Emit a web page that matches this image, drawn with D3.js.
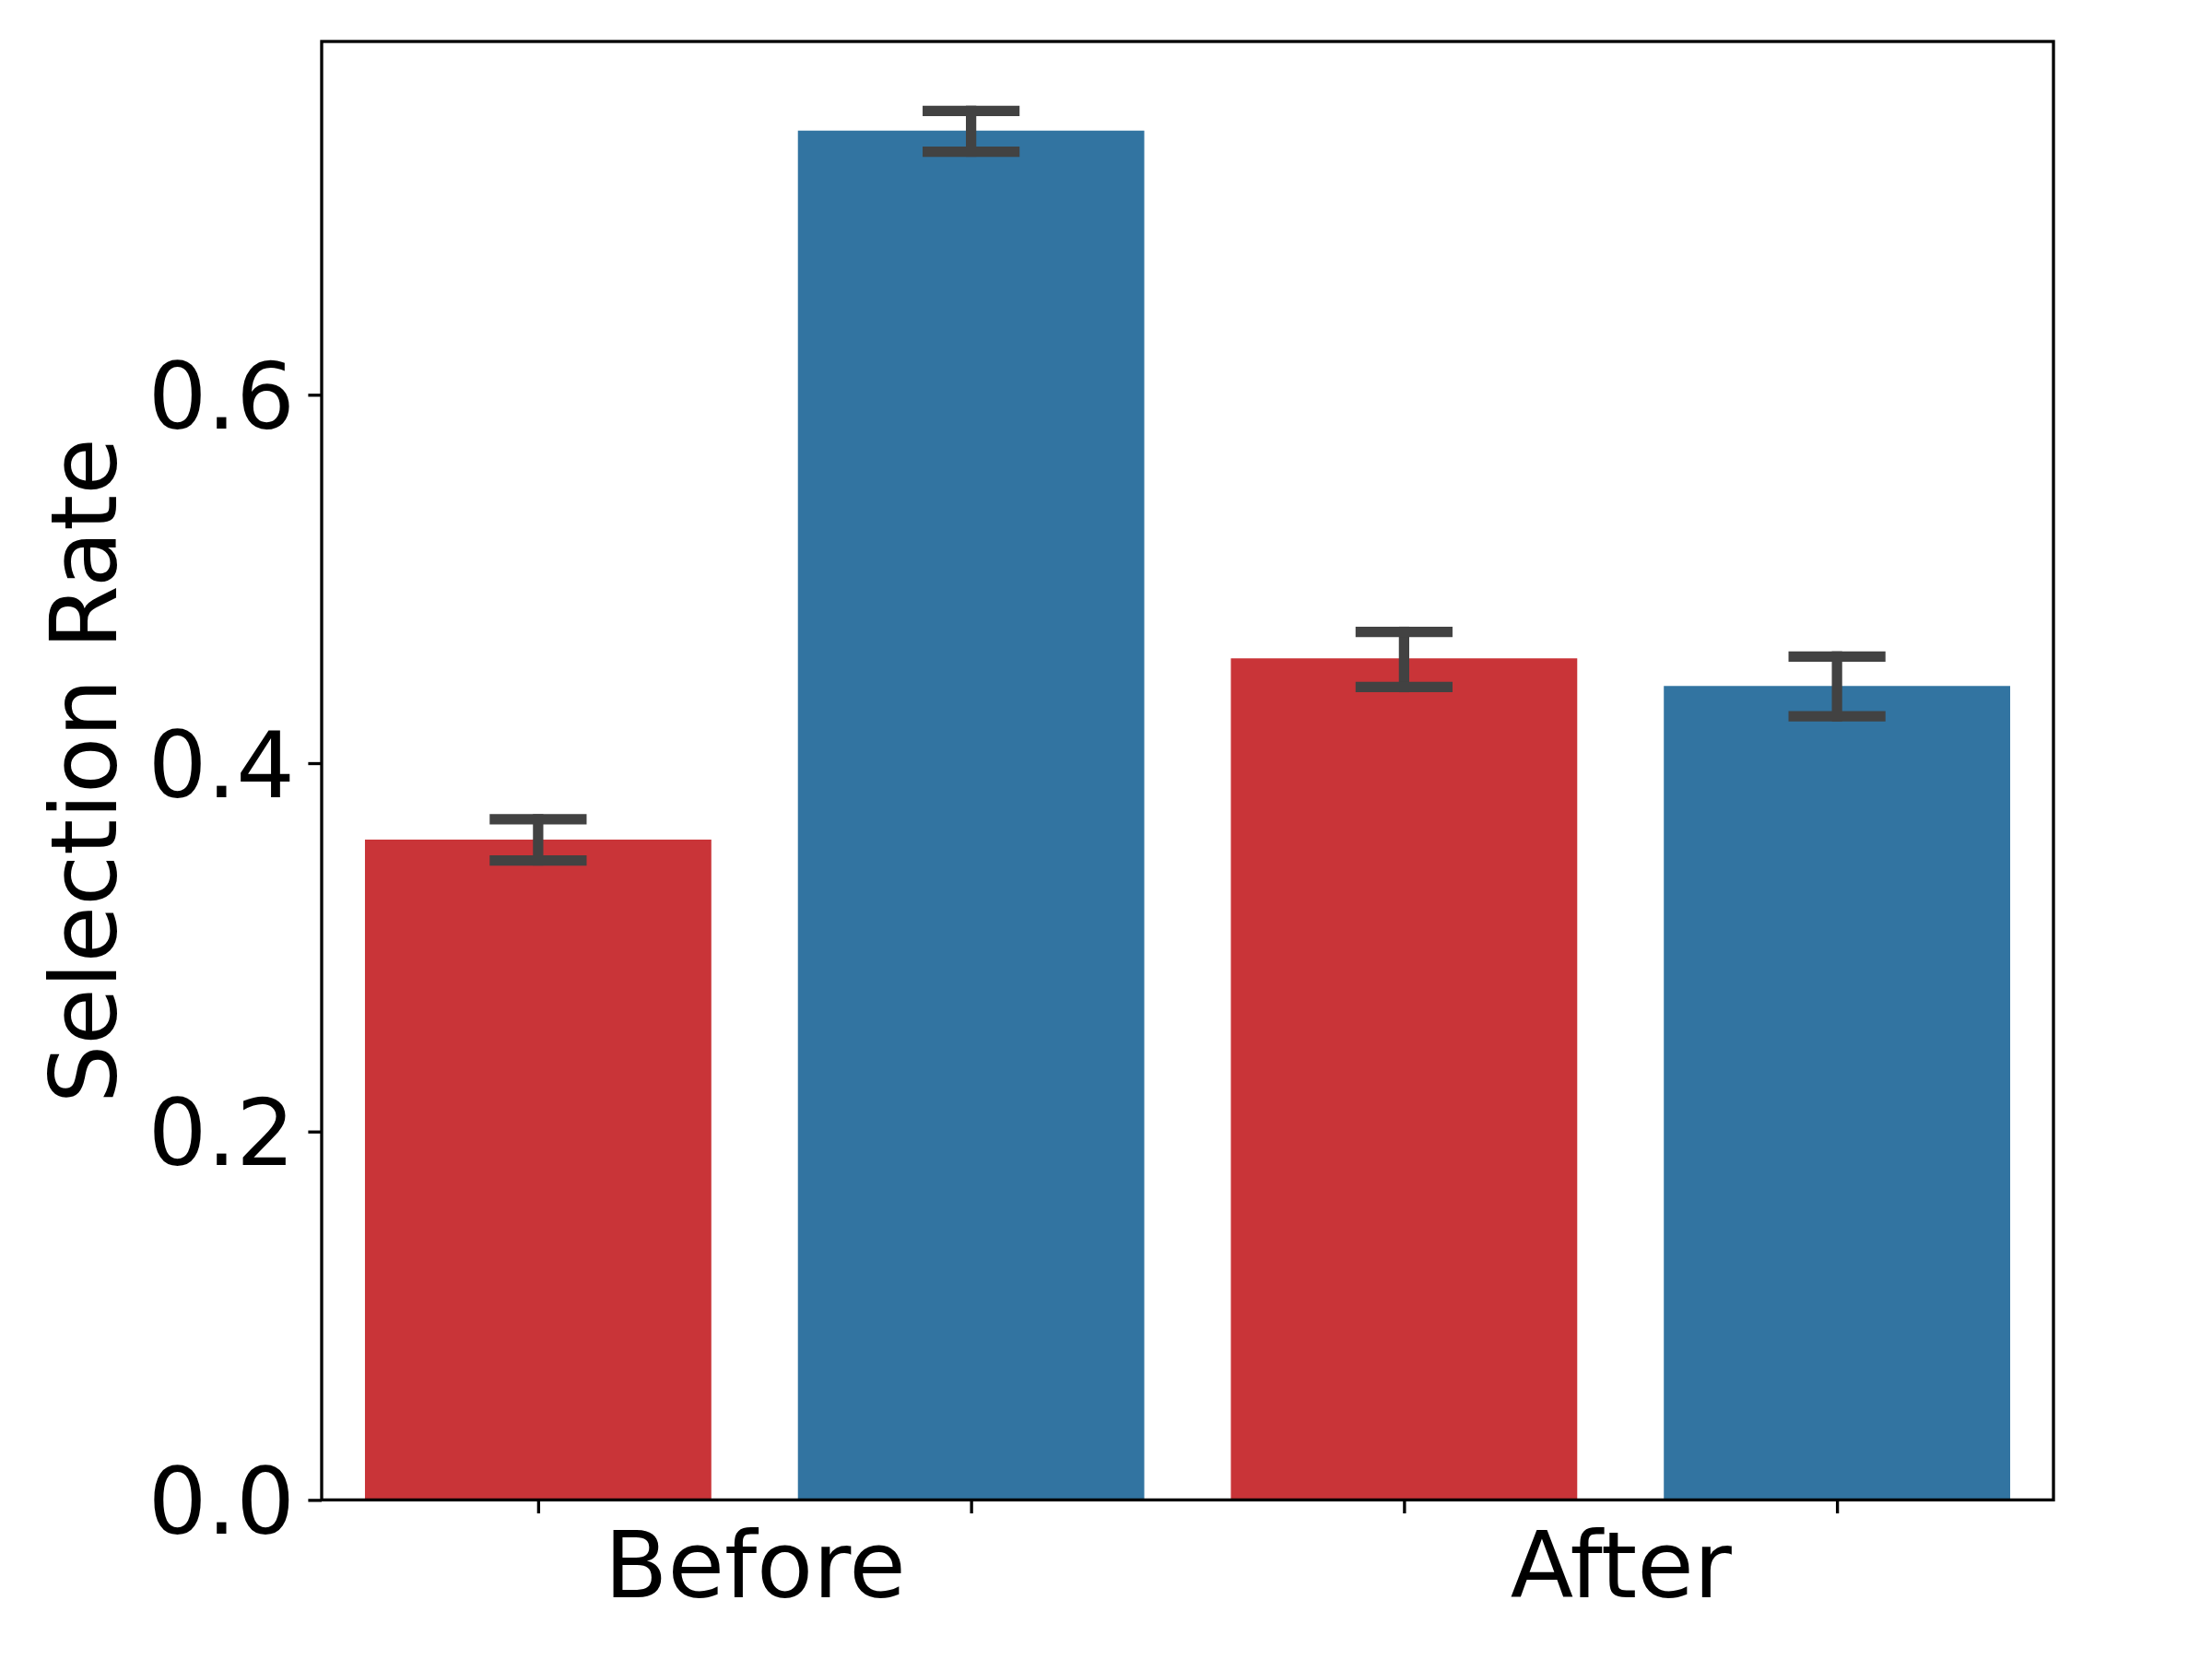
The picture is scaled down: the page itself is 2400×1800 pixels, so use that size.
<!DOCTYPE html>
<html>
<head>
<meta charset="utf-8">
<script src="https://cdn.jsdelivr.net/npm/d3@7"></script>
<style>
  html, body { margin: 0; padding: 0; background: #ffffff; }
  svg { display: block; }
</style>
</head>
<body>
<div id="chart"></div>
<script>
// ---- data ----
const groups = ["Before", "After"];
const groupPositions = [0.5, 2.5];
const barPositions = [0, 1, 2, 3];
const barValues = [0.3585, 0.7434, 0.4569, 0.4419];
const errLow   = [0.3472, 0.7320, 0.4413, 0.4254];
const errHigh  = [0.3695, 0.7541, 0.4713, 0.4579];
const barColors = ["#c93438", "#3274a1", "#c93438", "#3274a1"];
const yTicks = [0.0, 0.2, 0.4, 0.6];
const yLabel = "Selection Rate";

// ---- layout ----
const W = 2400, H = 1800;
const axLeft = 349, axRight = 2228, axTop = 45, axBottom = 1627.4;
const font = "'DejaVu Sans', sans-serif";
const fs = 100;
const tickLen = 14.6, tickPad = 14.6, spineW = 3.33;

const svg = d3.select("#chart").append("svg")
  .attr("width", W).attr("height", H)
  .attr("viewBox", `0 0 ${W} ${H}`);
svg.append("rect").attr("width", W).attr("height", H).attr("fill", "#ffffff");

const x = d3.scaleLinear().domain([-0.5, 3.5]).range([axLeft, axRight]);
const y = d3.scaleLinear().domain([0, 0.7918]).range([axBottom, axTop]);
const barW = 0.8;
const capHalf = 0.1;

const data = barPositions.map((p, i) => ({
  pos: p, v: barValues[i], lo: errLow[i], hi: errHigh[i], c: barColors[i]
}));

// bars
svg.append("g").selectAll("rect").data(data).join("rect")
  .attr("x", d => x(d.pos - barW / 2))
  .attr("width", d => x(d.pos + barW / 2) - x(d.pos - barW / 2))
  .attr("y", d => y(d.v))
  .attr("height", d => y(0) - y(d.v))
  .attr("fill", d => d.c);

// error bars
const eg = svg.append("g")
  .attr("stroke", "#424242").attr("stroke-width", 11.25)
  .attr("stroke-linecap", "square").attr("fill", "none");
data.forEach(d => {
  eg.append("line").attr("x1", x(d.pos)).attr("x2", x(d.pos))
    .attr("y1", y(d.lo)).attr("y2", y(d.hi));
  eg.append("line").attr("x1", x(d.pos - capHalf)).attr("x2", x(d.pos + capHalf))
    .attr("y1", y(d.lo)).attr("y2", y(d.lo));
  eg.append("line").attr("x1", x(d.pos - capHalf)).attr("x2", x(d.pos + capHalf))
    .attr("y1", y(d.hi)).attr("y2", y(d.hi));
});

// y axis
const yAxis = svg.append("g").attr("transform", `translate(${axLeft},0)`)
  .call(d3.axisLeft(y).tickValues(yTicks).tickFormat(d3.format(".1f"))
    .tickSize(tickLen).tickPadding(tickPad));
yAxis.select(".domain").remove();
yAxis.selectAll(".tick line").attr("stroke", "#000").attr("stroke-width", spineW);
yAxis.selectAll(".tick text").attr("font-family", font).attr("font-size", fs)
  .attr("fill", "#000").attr("dy", "0.36em");

// x axis ticks (bar centres, no labels)
const xAxis = svg.append("g").attr("transform", `translate(0,${axBottom})`)
  .call(d3.axisBottom(x).tickValues(barPositions).tickFormat("")
    .tickSize(tickLen));
xAxis.select(".domain").remove();
xAxis.selectAll(".tick line").attr("stroke", "#000").attr("stroke-width", spineW);

// x group labels
const xLab = svg.append("g").attr("transform", `translate(0,${axBottom})`)
  .call(d3.axisBottom(x).tickValues(groupPositions)
    .tickFormat((d, i) => groups[i]).tickSize(0).tickPadding(0));
xLab.select(".domain").remove();
xLab.selectAll(".tick line").remove();
xLab.selectAll(".tick text").attr("font-family", font).attr("font-size", fs)
  .attr("fill", "#000").attr("y", 106).attr("dy", 0);

// frame
svg.append("rect")
  .attr("x", axLeft).attr("y", axTop)
  .attr("width", axRight - axLeft).attr("height", axBottom - axTop)
  .attr("fill", "none").attr("stroke", "#000").attr("stroke-width", spineW);

// y label
svg.append("text")
  .attr("transform", `translate(126,${(axTop + axBottom) / 2}) rotate(-90)`)
  .attr("text-anchor", "middle")
  .attr("font-family", font).attr("font-size", fs).attr("fill", "#000")
  .text(yLabel);
</script>
</body>
</html>
